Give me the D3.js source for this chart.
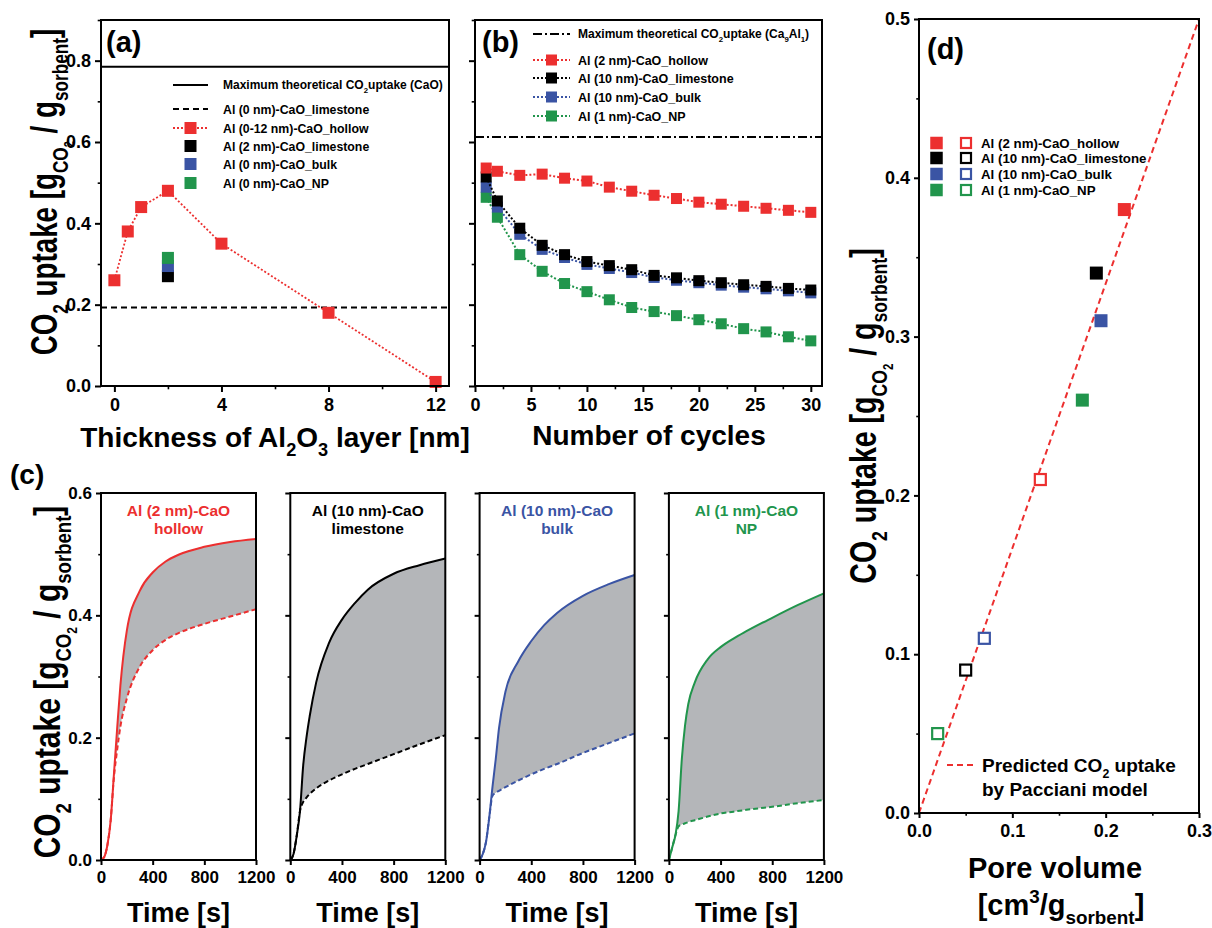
<!DOCTYPE html>
<html><head><meta charset="utf-8">
<script src="https://cdn.jsdelivr.net/npm/d3@7"></script>
<style>
body{margin:0;background:#fff}
svg{display:block}
text{font-family:"Liberation Sans",Arial,Helvetica,sans-serif;font-weight:bold;fill:#000}
</style>
</head><body>
<svg id="fig" width="1212" height="928"></svg>
<script>
// ---------------- DATA ----------------
// (a) uptake vs Al2O3 thickness
const aThickness = [0, 0.5, 1, 2, 4, 8, 12];
const aHollowUptake = [0.26, 0.38, 0.44, 0.48, 0.35, 0.18, 0.01];
const aSingleThickness = [2, 2, 2];
const aSingleUptake = [0.27, 0.295, 0.315]; // limestone(2nm), bulk(0nm), NP(0nm)
const aMaxCaO = 0.785;
const aLimestone0 = 0.193;
const aLegendLabels = ["Maximum theoretical CO2uptake (CaO)", "Al (0 nm)-CaO_limestone", "Al (0-12 nm)-CaO_hollow",
  "Al (2 nm)-CaO_limestone", "Al (0 nm)-CaO_bulk", "Al (0 nm)-CaO_NP"];
const aXTicks = [0, 4, 8, 12];
const aYTicks = [0.0, 0.2, 0.4, 0.6, 0.8];

// (b) uptake vs cycle number
const bCycles = [1, 2, 4, 6, 8, 10, 12, 14, 16, 18, 20, 22, 24, 26, 28, 30];
const bHollow = [0.536, 0.528, 0.518, 0.521, 0.511, 0.504, 0.489, 0.479, 0.469, 0.461, 0.452, 0.447, 0.442, 0.437, 0.432, 0.427];
const bLimestone = [0.514, 0.455, 0.388, 0.346, 0.323, 0.306, 0.296, 0.286, 0.272, 0.266, 0.259, 0.254, 0.249, 0.245, 0.240, 0.236];
const bBulk = [0.489, 0.440, 0.373, 0.336, 0.316, 0.299, 0.289, 0.279, 0.267, 0.260, 0.254, 0.248, 0.243, 0.239, 0.234, 0.229];
const bNP = [0.464, 0.415, 0.323, 0.282, 0.252, 0.232, 0.212, 0.193, 0.183, 0.173, 0.163, 0.153, 0.141, 0.133, 0.121, 0.111];
const bMaxCa9Al1 = 0.612;
const bLegendLabels = ["Al (2 nm)-CaO_hollow", "Al (10 nm)-CaO_limestone", "Al (10 nm)-CaO_bulk", "Al (1 nm)-CaO_NP"];
const bXTicks = [0, 5, 10, 15, 20, 25, 30];

// (c) uptake vs time: solid = measured, dashed = lower curve
const cTime = [0, 25, 50, 75, 100, 125, 150, 200, 300, 400, 500, 600, 800, 1000, 1200];
const cHollowSolid  = [0, 0.005, 0.025, 0.065, 0.140, 0.215, 0.285, 0.375, 0.440, 0.470, 0.488, 0.499, 0.512, 0.520, 0.525];
const cHollowDashed = [0, 0.005, 0.025, 0.065, 0.135, 0.180, 0.218, 0.264, 0.316, 0.343, 0.360, 0.371, 0.386, 0.398, 0.410];
const cLimeSolid    = [0, 0.010, 0.040, 0.080, 0.155, 0.200, 0.235, 0.290, 0.355, 0.393, 0.420, 0.442, 0.468, 0.482, 0.493];
const cLimeDashed   = [0, 0.010, 0.040, 0.080, 0.095, 0.102, 0.108, 0.117, 0.130, 0.140, 0.149, 0.157, 0.173, 0.189, 0.204];
const cBulkSolid    = [0, 0.010, 0.030, 0.070, 0.120, 0.165, 0.215, 0.275, 0.325, 0.358, 0.384, 0.404, 0.432, 0.451, 0.466];
const cBulkDashed   = [0, 0.010, 0.030, 0.070, 0.105, 0.110, 0.113, 0.119, 0.130, 0.140, 0.149, 0.157, 0.175, 0.191, 0.207];
const cNPSolid      = [0, 0.020, 0.040, 0.080, 0.165, 0.220, 0.255, 0.290, 0.328, 0.348, 0.362, 0.374, 0.396, 0.417, 0.436];
const cNPDashed     = [0, 0.020, 0.040, 0.055, 0.058, 0.060, 0.062, 0.065, 0.071, 0.076, 0.079, 0.082, 0.087, 0.093, 0.098];
const cTitles1 = ["Al (2 nm)-CaO", "Al (10 nm)-CaO", "Al (10 nm)-CaO", "Al (1 nm)-CaO"];
const cTitles2 = ["hollow", "limestone", "bulk", "NP"];
const cXTicks = [0, 400, 800, 1200];
const cYTicks = [0.0, 0.2, 0.4, 0.6];

// (d) uptake vs pore volume
const dPoreFilled = [0.22, 0.19, 0.195, 0.175];
const dUptakeFilled = [0.38, 0.34, 0.31, 0.26];
const dPoreOpen = [0.13, 0.05, 0.07, 0.02];
const dUptakeOpen = [0.21, 0.09, 0.11, 0.05];
const dModelPore = [0, 0.3];
const dModelUptake = [0, 0.5];
const dLegendLabels = ["Al (2 nm)-CaO_hollow", "Al (10 nm)-CaO_limestone", "Al (10 nm)-CaO_bulk", "Al (1 nm)-CaO_NP"];
const dXTicks = [0.0, 0.1, 0.2, 0.3];
const dYTicks = [0.0, 0.1, 0.2, 0.3, 0.4, 0.5];

// ---------------- STYLE ----------------
const RED = "#ec2f2f", BLACK = "#000000", BLUE = "#3a54a4", GREEN = "#21954c", SHADE = "#b4b6b9";
const seriesColors = [RED, BLACK, BLUE, GREEN];

const svg = d3.select("#fig");
svg.append("rect").attr("width", 1212).attr("height", 928).attr("fill", "#fff");

// rich text helper: parts = [[string, 'n'|'sub'|'sup'], ...]
function rich(textSel, parts, size) {
  let shift = 0;
  parts.forEach(([s, k]) => {
    const target = k === "sub" ? size * 0.32 : (k === "sup" ? -size * 0.42 : 0);
    const fs = k === "n" ? size : size * 0.65;
    textSel.append("tspan").attr("dy", (target - shift).toFixed(2)).attr("font-size", fs).text(s);
    shift = target;
  });
  return textSel;
}
// rotated, horizontally condensed y-axis title
function uptakeLabel(x, y, size, sx) {
  const t = svg.append("text").attr("text-anchor", "middle")
    .attr("transform", `translate(${x},${y}) rotate(-90) scale(${sx},1)`).attr("font-size", size);
  let shift = 0;
  const parts = [["CO", 0, 1], ["2", 0.3, 0.62], [" uptake [g", 0, 1], ["CO", 0.3, 0.62], ["2", 0.45, 0.4], [" / g", 0, 1], ["sorbent", 0.3, 0.62], ["]", 0, 1]];
  parts.forEach(([s, off, sc]) => {
    const target = off * size;
    t.append("tspan").attr("dy", (target - shift).toFixed(2)).attr("font-size", size * sc).text(s);
    shift = target;
  });
}

function frame(x0, y0, x1, y1) {
  svg.append("rect").attr("x", x0).attr("y", y0).attr("width", x1 - x0).attr("height", y1 - y0)
    .attr("fill", "none").attr("stroke", "#000").attr("stroke-width", 2);
}
// orient: d3.axisLeft / d3.axisBottom
function axis(orient, scale, pos, major, minor, fmt, fs, len, pad) {
  const g = svg.append("g").attr("transform", pos);
  g.call(orient(scale).tickValues(major).tickSize(len).tickPadding(pad).tickFormat(fmt));
  g.selectAll("text").attr("font-size", fs).attr("font-weight", "bold")
    .attr("font-family", '"Liberation Sans",Arial,sans-serif').attr("fill", "#000");
  g.selectAll("line").attr("stroke-width", 2);
  g.select(".domain").remove();
  if (minor && minor.length) {
    const m = svg.append("g").attr("transform", pos);
    m.call(orient(scale).tickValues(minor).tickSize(len * 0.55).tickFormat(""));
    m.selectAll("line").attr("stroke-width", 1.6);
    m.select(".domain").remove();
  }
}
function square(g, cx, cy, s, color, open) {
  if (open) {
    g.append("rect").attr("x", cx - s / 2).attr("y", cy - s / 2).attr("width", s).attr("height", s)
      .attr("fill", "#fff").attr("stroke", color).attr("stroke-width", 2.2);
  } else {
    g.append("rect").attr("x", cx - s / 2).attr("y", cy - s / 2).attr("width", s).attr("height", s)
      .attr("fill", color);
  }
}
const f1 = d3.format(".1f");

// ---------------- PANEL (a) ----------------
{
  const L = 101, R = 449, T = 20, B = 386;
  const x = d3.scaleLinear().domain([-0.5, 12.5]).range([L, R]);
  const y = d3.scaleLinear().domain([0, 0.9]).range([B, T]);
  const g = svg.append("g");
  g.append("line").attr("x1", L).attr("x2", R).attr("y1", y(aMaxCaO)).attr("y2", y(aMaxCaO))
    .attr("stroke", "#000").attr("stroke-width", 2);
  g.append("line").attr("x1", L).attr("x2", R).attr("y1", y(aLimestone0)).attr("y2", y(aLimestone0))
    .attr("stroke", "#000").attr("stroke-width", 2).attr("stroke-dasharray", "6,4");
  const pts = aThickness.map((t, i) => [t, aHollowUptake[i]]);
  g.append("path").datum(pts).attr("fill", "none").attr("stroke", RED).attr("stroke-width", 1.8)
    .attr("stroke-dasharray", "2,2").attr("d", d3.line().x(d => x(d[0])).y(d => y(d[1])));
  pts.forEach(d => square(g, x(d[0]), y(d[1]), 12, RED));
  [BLACK, BLUE, GREEN].forEach((c, i) => square(g, x(aSingleThickness[i]), y(aSingleUptake[i]), 12, c));
  frame(L, T, R, B);
  axis(d3.axisLeft, y, `translate(${L},0)`, aYTicks, [0.1, 0.3, 0.5, 0.7, 0.9], f1, 18, 6, 4);
  axis(d3.axisBottom, x, `translate(0,${B})`, aXTicks, [2, 6, 10], d3.format("d"), 18, 6, 6);
  // legend
  const lx0 = 173, lx1 = 208, tx = 223, rows = [85, 109, 128, 146, 164, 183];
  g.append("line").attr("x1", lx0).attr("x2", lx1).attr("y1", rows[0]).attr("y2", rows[0]).attr("stroke", "#000").attr("stroke-width", 2);
  g.append("line").attr("x1", lx0).attr("x2", lx1).attr("y1", rows[1]).attr("y2", rows[1]).attr("stroke", "#000").attr("stroke-width", 2).attr("stroke-dasharray", "6,4");
  g.append("line").attr("x1", lx0).attr("x2", lx1).attr("y1", rows[2]).attr("y2", rows[2]).attr("stroke", RED).attr("stroke-width", 1.8).attr("stroke-dasharray", "2,2");
  square(g, (lx0 + lx1) / 2, rows[2], 12, RED);
  square(g, (lx0 + lx1) / 2, rows[3], 12, BLACK);
  square(g, (lx0 + lx1) / 2, rows[4], 12, BLUE);
  square(g, (lx0 + lx1) / 2, rows[5], 12, GREEN);
  rich(g.append("text").attr("x", tx).attr("y", rows[0] + 4).attr("font-size", 12),
    [["Maximum theoretical CO", "n"], ["2", "sub"], ["uptake  (CaO)", "n"]], 12);
  aLegendLabels.slice(1).forEach((s, i) => g.append("text").attr("x", tx).attr("y", rows[i + 1] + 4.5).attr("font-size", 12.3).text(s));
  svg.append("text").attr("x", 106).attr("y", 52).attr("font-size", 29).text("(a)");
  rich(svg.append("text").attr("x", 275).attr("y", 447).attr("text-anchor", "middle").attr("font-size", 28),
    [["Thickness of Al", "n"], ["2", "sub"], ["O", "n"], ["3", "sub"], [" layer [nm]", "n"]], 28);
  uptakeLabel(57, 192, 37, 0.75);
}

// ---------------- PANEL (b) ----------------
{
  const L = 475, R = 822, T = 20, B = 386;
  const x = d3.scaleLinear().domain([0, 31]).range([L, R]);
  const y = d3.scaleLinear().domain([0, 0.9]).range([B, T]);
  const g = svg.append("g");
  g.append("line").attr("x1", L).attr("x2", R).attr("y1", y(bMaxCa9Al1)).attr("y2", y(bMaxCa9Al1))
    .attr("stroke", "#000").attr("stroke-width", 2).attr("stroke-dasharray", "9,3,2,3");
  const series = [[bNP, GREEN], [bBulk, BLUE], [bLimestone, BLACK], [bHollow, RED]];
  series.forEach(([vals, c]) => {
    const pts = bCycles.map((cy, i) => [cy, vals[i]]);
    g.append("path").datum(pts).attr("fill", "none").attr("stroke", c).attr("stroke-width", 2)
      .attr("stroke-dasharray", "2,2").attr("d", d3.line().x(d => x(d[0])).y(d => y(d[1])));
    pts.forEach(d => square(g, x(d[0]), y(d[1]), 11, c));
  });
  frame(L, T, R, B);
  axis(d3.axisLeft, y, `translate(${L},0)`, aYTicks, [0.1, 0.3, 0.5, 0.7, 0.9], "", 18, 6, 4);
  axis(d3.axisBottom, x, `translate(0,${B})`, bXTicks, [2.5, 7.5, 12.5, 17.5, 22.5, 27.5], d3.format("d"), 18, 6, 6);
  // legend
  const lx0 = 533, lx1 = 570, tx = 578, rows = [34, 60, 78, 97, 116];
  g.append("line").attr("x1", lx0).attr("x2", lx1).attr("y1", rows[0]).attr("y2", rows[0]).attr("stroke", "#000").attr("stroke-width", 2).attr("stroke-dasharray", "9,3,2,3");
  rich(g.append("text").attr("x", tx).attr("y", rows[0] + 4).attr("font-size", 12),
    [["Maximum theoretical CO", "n"], ["2", "sub"], ["uptake (Ca", "n"], ["9", "sub"], ["Al", "n"], ["1", "sub"], [")", "n"]], 12);
  [RED, BLACK, BLUE, GREEN].forEach((c, i) => {
    const ry = rows[i + 1];
    g.append("line").attr("x1", lx0).attr("x2", lx1).attr("y1", ry).attr("y2", ry).attr("stroke", c).attr("stroke-width", 2).attr("stroke-dasharray", "2,2");
    square(g, (lx0 + lx1) / 2, ry, 11, c);
    g.append("text").attr("x", tx).attr("y", ry + 4.5).attr("font-size", 12.5).text(bLegendLabels[i]);
  });
  svg.append("text").attr("x", 482).attr("y", 52).attr("font-size", 29).text("(b)");
  svg.append("text").attr("x", 649).attr("y", 445).attr("text-anchor", "middle").attr("font-size", 28).text("Number of cycles");
}

// ---------------- PANEL (c) ----------------
{
  const T = 493, B = 860, Wd = 155;
  const y = d3.scaleLinear().domain([0, 0.6]).range([B, T]);
  const sets = [[cHollowSolid, cHollowDashed], [cLimeSolid, cLimeDashed], [cBulkSolid, cBulkDashed], [cNPSolid, cNPDashed]];
  sets.forEach(([solid, dashed], i) => {
    const L = 101 + i * 189.3, R = L + Wd;
    const x = d3.scaleLinear().domain([0, 1200]).range([L, R]);
    const c = seriesColors[i];
    const pts = cTime.map((t, k) => [t, solid[k], dashed[k]]);
    const g = svg.append("g");
    g.append("path").datum(pts).attr("fill", SHADE)
      .attr("d", d3.area().x(d => x(d[0])).y0(d => y(d[2])).y1(d => y(d[1])).curve(d3.curveMonotoneX));
    g.append("path").datum(pts).attr("fill", "none").attr("stroke", c).attr("stroke-width", 2)
      .attr("stroke-dasharray", "5,3")
      .attr("d", d3.line().x(d => x(d[0])).y(d => y(d[2])).curve(d3.curveMonotoneX));
    g.append("path").datum(pts).attr("fill", "none").attr("stroke", c).attr("stroke-width", 2)
      .attr("d", d3.line().x(d => x(d[0])).y(d => y(d[1])).curve(d3.curveMonotoneX));
    frame(L, T, R, B);
    axis(d3.axisLeft, y, `translate(${L},0)`, cYTicks, [0.1, 0.3, 0.5], i === 0 ? f1 : "", 17, 5, 4);
    axis(d3.axisBottom, x, `translate(0,${B})`, cXTicks, [], d3.format("d"), 17, 5, 6);
    g.append("text").attr("x", (L + R) / 2).attr("y", 516).attr("text-anchor", "middle").attr("font-size", 15.5)
      .style("fill", c).text(cTitles1[i]);
    g.append("text").attr("x", (L + R) / 2).attr("y", 534).attr("text-anchor", "middle").attr("font-size", 15.5)
      .style("fill", c).text(cTitles2[i]);
    svg.append("text").attr("x", (L + R) / 2).attr("y", 922).attr("text-anchor", "middle").attr("font-size", 27).text("Time [s]");
  });
  svg.append("text").attr("x", 10).attr("y", 484).attr("font-size", 28).text("(c)");
  uptakeLabel(60, 682, 37, 0.81);
}

// ---------------- PANEL (d) ----------------
{
  const L = 919, R = 1199, T = 19, B = 813;
  const x = d3.scaleLinear().domain([0, 0.3]).range([L, R]);
  const y = d3.scaleLinear().domain([0, 0.5]).range([B, T]);
  const g = svg.append("g");
  const model = dModelPore.map((p, i) => [p, dModelUptake[i]]);
  g.append("path").datum(model).attr("fill", "none").attr("stroke", RED).attr("stroke-width", 2)
    .attr("stroke-dasharray", "6,4").attr("d", d3.line().x(d => x(d[0])).y(d => y(d[1])));
  seriesColors.forEach((c, i) => square(g, x(dPoreFilled[i]), y(dUptakeFilled[i]), 13, c));
  seriesColors.forEach((c, i) => square(g, x(dPoreOpen[i]), y(dUptakeOpen[i]), 11, c, true));
  frame(L, T, R, B);
  axis(d3.axisLeft, y, `translate(${L},0)`, dYTicks, [0.05, 0.15, 0.25, 0.35, 0.45], f1, 18, 5, 4);
  axis(d3.axisBottom, x, `translate(0,${B})`, dXTicks, [0.05, 0.15, 0.25], f1, 18, 5, 6);
  // legend
  const rows = [143, 158, 174, 190];
  seriesColors.forEach((c, i) => {
    square(g, 936.5, rows[i], 12.5, c);
    square(g, 966, rows[i], 10, c, true);
    g.append("text").attr("x", 981).attr("y", rows[i] + 5).attr("font-size", 13.3).text(dLegendLabels[i]);
  });
  g.append("line").attr("x1", 947).attr("x2", 973).attr("y1", 765).attr("y2", 765).attr("stroke", RED)
    .attr("stroke-width", 2).attr("stroke-dasharray", "6,4");
  rich(g.append("text").attr("x", 982).attr("y", 772).attr("font-size", 19),
    [["Predicted CO", "n"], ["2", "sub"], [" uptake", "n"]], 19);
  g.append("text").attr("x", 982).attr("y", 796).attr("font-size", 19).text("by Pacciani model");
  svg.append("text").attr("x", 927).attr("y", 59).attr("font-size", 29).text("(d)");
  svg.append("text").attr("x", 1055).attr("y", 878).attr("text-anchor", "middle").attr("font-size", 29).text("Pore volume");
  rich(svg.append("text").attr("x", 1061).attr("y", 915).attr("text-anchor", "middle").attr("font-size", 29),
    [["[cm", "n"], ["3", "sup"], ["/g", "n"], ["sorbent", "sub"], ["]", "n"]], 29);
  uptakeLabel(876, 416, 37, 0.77);
}
</script>
</body></html>
